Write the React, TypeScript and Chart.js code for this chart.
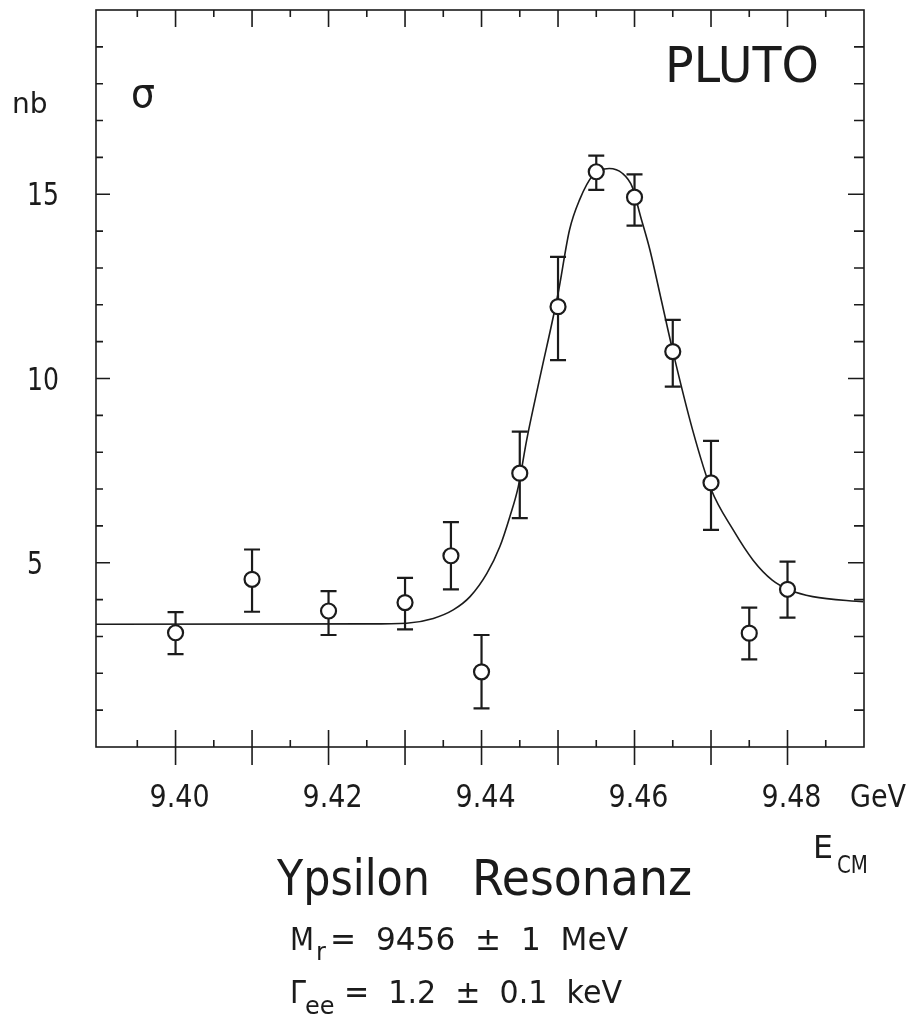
import React, { useEffect, useRef } from "react";
import { Chart, registerables } from "chart.js";

Chart.register(...registerables);

// Measured points: centre-of-mass energy (GeV) and cross section (nb)
const energies = [9.400, 9.410, 9.420, 9.430, 9.436, 9.440, 9.445, 9.450, 9.455, 9.460, 9.465, 9.470, 9.475, 9.480];
const sigma = [3.10, 4.55, 3.69, 3.92, 5.19, 2.04, 7.43, 11.95, 15.61, 14.92, 10.73, 7.17, 3.09, 4.28];
const errTop = [3.66, 5.36, 4.23, 4.59, 6.10, 3.04, 8.56, 13.30, 16.05, 15.54, 11.59, 8.31, 3.78, 5.03];
const errBottom = [2.52, 3.67, 3.04, 3.19, 4.28, 1.05, 6.21, 10.50, 15.12, 14.15, 9.78, 5.89, 2.38, 3.51];

// Fitted resonance curve
const fitE = [9.3896, 9.4250, 9.4302, 9.4337, 9.4363, 9.4385, 9.4407, 9.4424, 9.4437, 9.4448, 9.4459, 9.4475, 9.4500, 9.4515, 9.4528, 9.4546, 9.4567, 9.4584, 9.4597, 9.4608, 9.4620, 9.4635, 9.4650, 9.4676, 9.4700, 9.4729, 9.4755, 9.4780, 9.4803, 9.4833, 9.4899];
const fitSigma = [3.33, 3.34, 3.36, 3.49, 3.72, 4.08, 4.71, 5.44, 6.25, 7.06, 8.33, 9.90, 12.30, 14.03, 14.84, 15.52, 15.70, 15.57, 15.20, 14.39, 13.50, 12.13, 10.75, 8.60, 7.00, 5.89, 5.07, 4.53, 4.26, 4.08, 3.94];

// Axis ticks
const xTickValues = [9.40, 9.42, 9.44, 9.46, 9.48];
const xTickLabels = ["9.40", "9.42", "9.44", "9.46", "9.48"];
const yTickValues = [5, 10, 15];
const yTickLabels = ["5", "10", "15"];

const X_MIN = 9.3896;
const X_MAX = 9.49;
const Y_MIN = 0;
const Y_MAX = 20;

const INK = "#1b1b1b";
const FONT = "'DejaVu Sans', 'Liberation Sans', sans-serif";

const decorPlugin = {
  id: "decor",
  beforeDatasetsDraw(chart: any) {
    const ctx = chart.ctx;
    const xs = chart.scales.x;
    const ys = chart.scales.y;
    ctx.save();
    ctx.strokeStyle = INK;
    ctx.lineWidth = 2.2;
    for (let i = 0; i < energies.length; i++) {
      const px = xs.getPixelForValue(energies[i]);
      const pt = ys.getPixelForValue(errTop[i]);
      const pb = ys.getPixelForValue(errBottom[i]);
      ctx.beginPath();
      ctx.moveTo(px, pt);
      ctx.lineTo(px, pb);
      ctx.moveTo(px - 8, pt);
      ctx.lineTo(px + 8, pt);
      ctx.moveTo(px - 8, pb);
      ctx.lineTo(px + 8, pb);
      ctx.stroke();
    }
    ctx.restore();
  },
  afterDraw(chart: any) {
    const ctx = chart.ctx;
    const xs = chart.scales.x;
    const ys = chart.scales.y;
    const { left, right, top, bottom } = chart.chartArea;
    ctx.save();
    ctx.strokeStyle = INK;
    ctx.fillStyle = INK;
    ctx.lineWidth = 1.6;
    // frame
    ctx.strokeRect(left, top, right - left, bottom - top);
    // x ticks (every 0.005, major every 0.01)
    ctx.beginPath();
    for (let k = 1; k <= 19; k++) {
      const v = 9.39 + k * 0.005;
      const px = xs.getPixelForValue(v);
      const major = k % 2 === 0;
      if (major) {
        ctx.moveTo(px, bottom - 17);
        ctx.lineTo(px, bottom + 18);
        ctx.moveTo(px, top);
        ctx.lineTo(px, top + 17);
      } else {
        ctx.moveTo(px, bottom - 7);
        ctx.lineTo(px, bottom);
        ctx.moveTo(px, top);
        ctx.lineTo(px, top + 7);
      }
    }
    // y ticks (every 1, major every 5)
    for (let v = 1; v < Y_MAX; v++) {
      const py = ys.getPixelForValue(v);
      const major = v % 5 === 0;
      ctx.moveTo(left, py);
      ctx.lineTo(left + (major ? 14 : 7), py);
      ctx.moveTo(right, py);
      ctx.lineTo(right - (major ? 16 : 10), py);
    }
    ctx.stroke();

    // tick labels
    ctx.textBaseline = "alphabetic";
    ctx.font = `32px ${FONT}`;
    ctx.textAlign = "center";
    xTickValues.forEach((v, i) => {
      const px = xs.getPixelForValue(v) + 4;
      ctx.fillText(xTickLabels[i], px, 807, 60);
    });
    ctx.textAlign = "left";
    ctx.fillText("GeV", 850, 807, 56);
    yTickValues.forEach((v, i) => {
      const py = ys.getPixelForValue(v);
      ctx.fillText(yTickLabels[i], 27, py + 11, yTickLabels[i].length * 16);
    });
    // unit nb
    ctx.font = `28px ${FONT}`;
    ctx.fillText("nb", 12, 113, 38);
    // sigma
    ctx.font = `40px ${FONT}`;
    ctx.fillText("σ", 131, 107, 24);
    // PLUTO
    ctx.font = `50px ${FONT}`;
    ctx.fillText("PLUTO", 665, 82, 154);
    // E_CM
    ctx.font = `32px ${FONT}`;
    ctx.fillText("E", 813, 858, 20);
    ctx.font = `24px ${FONT}`;
    ctx.fillText("CM", 837, 873, 31);
    // title
    ctx.font = `50px ${FONT}`;
    ctx.fillText("Ypsilon", 277, 895, 153);
    ctx.fillText("Resonanz", 472, 895, 220);
    // parameters
    ctx.font = `32px ${FONT}`;
    ctx.fillText("M", 290, 950, 24);
    ctx.font = `24px ${FONT}`;
    ctx.fillText("r", 316, 960, 10);
    ctx.font = `32px ${FONT}`;
    ctx.fillText("=  9456  ±  1  MeV", 330, 950, 298);
    ctx.fillText("Γ", 290, 1003, 16);
    ctx.font = `24px ${FONT}`;
    ctx.fillText("ee", 305, 1014, 37);
    ctx.font = `32px ${FONT}`;
    ctx.fillText("=  1.2  ±  0.1  keV", 344, 1003, 278);
    ctx.restore();
  },
};

export default function App() {
  const ref = useRef<HTMLCanvasElement | null>(null);
  useEffect(() => {
    if (!ref.current) return;
    const chart = new Chart(ref.current, {
      type: "scatter",
      data: {
        datasets: [
          {
            label: "fit",
            data: fitE.map((e, i) => ({ x: e, y: fitSigma[i] })),
            showLine: true,
            borderColor: INK,
            borderWidth: 1.6,
            pointRadius: 0,
            cubicInterpolationMode: "monotone",
            order: 2,
          },
          {
            label: "data",
            data: energies.map((e, i) => ({ x: e, y: sigma[i] })),
            showLine: false,
            pointStyle: "circle",
            pointRadius: 7.5,
            borderColor: INK,
            borderWidth: 2.2,
            backgroundColor: "#ffffff",
            order: 1,
          },
        ],
      } as any,
      options: {
        animation: false,
        responsive: false,
        events: [],
        layout: { padding: { left: 96, right: 47, top: 10, bottom: 270 } },
        plugins: { legend: { display: false }, tooltip: { enabled: false } },
        scales: {
          x: { type: "linear", min: X_MIN, max: X_MAX, display: false },
          y: { type: "linear", min: Y_MIN, max: Y_MAX, display: false },
        },
      },
      plugins: [decorPlugin],
    });
    return () => chart.destroy();
  }, []);
  return (
    <div style={{ position: "absolute", left: 0, top: 0, width: 911, height: 1017, background: "#fff" }}>
      <canvas ref={ref} width={911} height={1017} />
    </div>
  );
}
